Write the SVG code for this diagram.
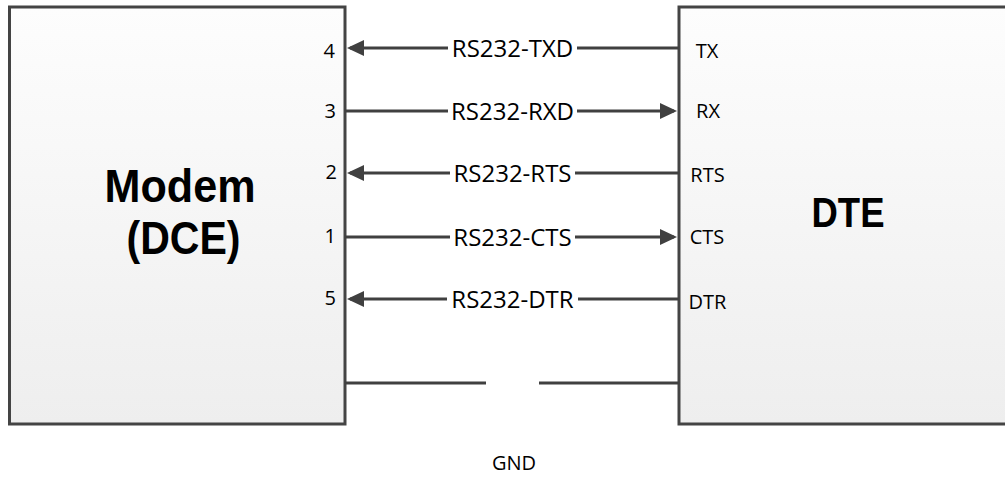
<svg xmlns="http://www.w3.org/2000/svg" width="1005" height="477" viewBox="0 0 1005 477">
<defs>
<linearGradient id="boxFill" x1="0" y1="0" x2="0" y2="1">
<stop offset="0" stop-color="#fdfdfd"/>
<stop offset="1" stop-color="#eeeeee"/>
</linearGradient>
<marker id="arrow" viewBox="0 0 17 16" refX="14" refY="8" markerWidth="17" markerHeight="16" markerUnits="userSpaceOnUse" orient="auto">
<path d="M0,0 L17,8 L0,16 Z" fill="#404040"/>
</marker>
</defs>
<style>
.box{fill:url(#boxFill);stroke:#444444;stroke-width:3}
.title{font-family:"Liberation Sans",Arial,sans-serif;font-weight:bold;font-size:46px;fill:#000;text-anchor:middle}
.pin{font-family:"Open Sans","Noto Sans",sans-serif;font-size:20px;fill:#000}
.sig{font-family:"Open Sans","Noto Sans",sans-serif;font-size:24px;fill:#000;text-anchor:middle}
.wire{stroke:#404040;stroke-width:3;fill:none}
.lblbg{fill:#ffffff}
</style>
<rect width="1005" height="477" fill="#ffffff"/>
<g id="modem">
<rect class="box" x="9.5" y="7" width="335.5" height="417"/>
<text class="title" x="180" y="201.5" textLength="151" lengthAdjust="spacingAndGlyphs">Modem</text>
<text class="title" x="183.5" y="254" textLength="114" lengthAdjust="spacingAndGlyphs">(DCE)</text>
<text class="pin" x="335" y="58" text-anchor="end">4</text>
<text class="pin" x="336" y="117.5" text-anchor="end">3</text>
<text class="pin" x="337" y="179" text-anchor="end">2</text>
<text class="pin" x="336" y="243" text-anchor="end">1</text>
<text class="pin" x="336" y="305" text-anchor="end">5</text>
</g>
<g id="dte">
<rect class="box" x="679" y="7" width="340" height="417"/>
<text class="title" x="848" y="226.5" style="font-size:42px" textLength="73" lengthAdjust="spacingAndGlyphs">DTE</text>
<text class="pin" x="707" y="58" text-anchor="middle">TX</text>
<text class="pin" x="708" y="118" text-anchor="middle">RX</text>
<text class="pin" x="707.5" y="182" text-anchor="middle">RTS</text>
<text class="pin" x="707" y="244" text-anchor="middle">CTS</text>
<text class="pin" x="707.5" y="309" text-anchor="middle">DTR</text>
</g>
<g id="connectors">
<path class="wire" d="M679,48 H350" marker-end="url(#arrow)"/>
<path class="wire" d="M345,111 H674" marker-end="url(#arrow)"/>
<path class="wire" d="M679,173 H350" marker-end="url(#arrow)"/>
<path class="wire" d="M345,237 H674" marker-end="url(#arrow)"/>
<path class="wire" d="M679,299 H350" marker-end="url(#arrow)"/>
<path class="wire" d="M345,383 H486 M539,383 H679"/>
<rect class="lblbg" x="448" y="36" width="129" height="24"/>
<text class="sig" x="512.5" y="56.5">RS232-TXD</text>
<rect class="lblbg" x="448" y="99" width="129" height="24"/>
<text class="sig" x="512.5" y="119.5">RS232-RXD</text>
<rect class="lblbg" x="450" y="161" width="125" height="24"/>
<text class="sig" x="512.5" y="181.5">RS232-RTS</text>
<rect class="lblbg" x="450" y="225" width="125" height="24"/>
<text class="sig" x="512.5" y="245.5">RS232-CTS</text>
<rect class="lblbg" x="447" y="287" width="131" height="24"/>
<text class="sig" x="512.5" y="307.5">RS232-DTR</text>
<text class="pin" x="514" y="470" text-anchor="middle">GND</text>
</g>
</svg>
